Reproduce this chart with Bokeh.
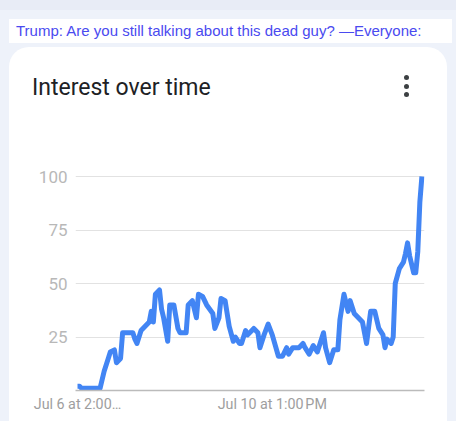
from bokeh.plotting import figure
from bokeh.models import Range1d, FixedTicker, Div
from bokeh.layouts import column, row
from bokeh.embed import file_html
from bokeh.resources import INLINE

# ---- data ----
hours = [0, 1, 2, 11, 13, 15, 16, 18, 19, 21, 22, 25, 27, 28, 29, 31, 33, 35, 36, 37,
         38, 40, 41, 42, 44, 45, 47, 49, 50, 53, 54, 56, 58, 59, 61, 63, 66, 67, 69, 70,
         72, 74, 76, 77, 79, 80, 82, 83, 86, 88, 89, 91, 93, 95, 98, 100, 102, 103, 105, 108,
         110, 111, 113, 115, 117, 120, 121, 123, 125, 127, 128, 130, 132, 133, 135, 137, 139, 141, 143, 145,
         147, 149, 150, 151, 153, 154, 155, 157, 159, 160, 161, 162, 164, 165, 166, 167, 168]
interest = [2, 2, 1, 1, 9, 15, 18, 19, 13, 15, 27, 27, 27, 24, 22, 28, 30, 32, 37, 32,
            45, 47, 38, 34, 23, 40, 40, 29, 27, 27, 40, 42, 34, 45, 44, 40, 36, 29, 34, 43,
            42, 30, 23, 25, 22, 22, 28, 26, 29, 27, 20, 26, 31, 26, 16, 16, 20, 17, 20, 20,
            22, 20, 17, 21, 18, 27, 20, 13, 19, 19, 33, 45, 37, 42, 36, 34, 32, 22, 37, 37,
            29, 26, 20, 24, 22, 25, 50, 57, 60, 64, 69, 63, 55, 55, 65, 88, 100]
x_tick_hours = [0, 95]
x_tick_labels = ["Jul 6 at 2:00\u2026", "Jul 10 at 1:00\u202fPM"]
y_ticks = [25, 50, 75, 100]

caption = "Trump: Are you still talking about this dead guy? \u2014Everyone:"
card_title = "Interest over time"

# ---- caption strip ----
caption_div = Div(text=caption, width=443, height=24, margin=(19, 0, 0, 9),
                  styles={"background-color": "white", "color": "#4a4af0",
                          "font-family": "'Liberation Sans', Arial, sans-serif",
                          "font-size": "15px", "line-height": "24px",
                          "padding-left": "7px", "box-sizing": "border-box",
                          "white-space": "nowrap", "overflow": "hidden"})

# ---- card header ----
title_div = Div(text=card_title, width=300, height=60, margin=(0, 0, 0, 23),
                styles={"color": "#202124", "font-family": "Roboto, sans-serif",
                        "font-size": "23px", "line-height": "23px",
                        "padding-top": "29px", "box-sizing": "border-box",
                        "white-space": "nowrap"})
dot = ('<div style="width:5px;height:5px;border-radius:50%;'
       'background:#3c4043;margin-bottom:3.5px"></div>')
dots_div = Div(text=dot * 3, width=6, height=40, margin=(28, 0, 0, 72))
header = row(title_div, dots_div, width=438, height=60)

# ---- chart ----
FW, FH = 438, 314
FL, FR, FT, FB = 66, 415, 65, 283   # frame edges inside the figure
p = figure(width=FW, height=FH, output_backend="svg", toolbar_location=None,
           title=None,
           x_range=Range1d(-0.98, 169.27), y_range=Range1d(0, 101.9),
           min_border_left=FL, min_border_right=FW - FR,
           min_border_top=FT, min_border_bottom=FH - FB)
p.border_fill_color = "white"
p.background_fill_color = "white"
p.outline_line_color = None

p.xgrid.visible = False
p.ygrid.grid_line_color = "#e2e2e2"
p.ygrid.grid_line_width = 1

p.xaxis.ticker = FixedTicker(ticks=x_tick_hours)
p.xaxis.major_label_overrides = dict(zip(x_tick_hours, x_tick_labels))
p.xaxis.axis_line_color = "#bbbbbb"
p.xaxis.axis_line_width = 1.5
p.xaxis.major_tick_line_color = None
p.xaxis.minor_tick_line_color = None
p.xaxis.major_tick_out = 0
p.xaxis.major_label_standoff = 5
p.xaxis.major_label_text_font = "Roboto"
p.xaxis.major_label_text_font_size = "14.3px"
p.xaxis.major_label_text_color = "#9e9e9e"

p.yaxis.ticker = FixedTicker(ticks=y_ticks)
p.yaxis.axis_line_color = None
p.yaxis.major_tick_line_color = None
p.yaxis.minor_tick_line_color = None
p.yaxis.major_tick_out = 0
p.yaxis.major_label_standoff = 8
p.yaxis.major_label_text_font = "Roboto"
p.yaxis.major_label_text_font_size = "17px"
p.yaxis.major_label_text_color = "#b8b8b8"

p.line(hours, interest, line_color="#4285f4", line_width=5, line_join="round")

card = column(header, p, width=438, height=374, margin=(4, 0, 0, 9),
              styles={"background-color": "white", "border-radius": "20px 20px 0 0"})

root = column(caption_div, card, width=456, height=421,
              styles={"background": "linear-gradient(#e8ecf6 0px, #e8ecf6 10px, #eef2fa 10px)"})

open("out.html", "w").write(file_html(root, INLINE))
